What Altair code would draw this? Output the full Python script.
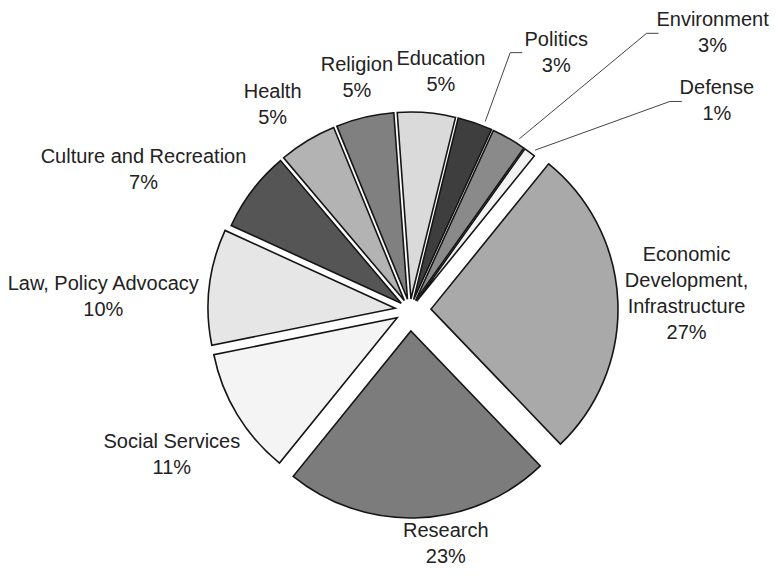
import math
import altair as alt
import pandas as pd

# ---- data ----
categories = ["Economic Development, Infrastructure", "Research", "Social Services",
              "Law, Policy Advocacy", "Culture and Recreation", "Health", "Religion",
              "Education", "Politics", "Environment", "Defense"]
label_names = ["Economic\nDevelopment,\nInfrastructure", "Research", "Social Services",
               "Law, Policy Advocacy", "Culture and Recreation", "Health", "Religion",
               "Education", "Politics", "Environment", "Defense"]
shares = [27, 23, 11, 10, 7, 5, 5, 5, 3, 3, 1]

# ---- style / layout ----
shades = ["#a9a9a9", "#7c7c7c", "#f4f4f4", "#e6e6e6", "#555555", "#b3b3b3",
          "#808080", "#dadada", "#3e3e3e", "#8a8a8a", "#f2f2f2"]
CX, CY = 402, 302          # pie centre (plot pixels)
R = 187                    # pie radius
START = math.radians(39)   # angle where first slice starts
LINE_H = 26
# label anchor around the centre: (angle in degrees clockwise from top, distance)
label_polar = {
    "Economic Development, Infrastructure": (86.7, 277),
    "Research": (171.3, 237),
    "Social Services": (-121.4, 279),
    "Law, Policy Advocacy": (-87.6, 307),
    "Culture and Recreation": (-62.3, 301),
    "Health": (-33.8, 247),
    "Religion": (-12.9, 238),
    "Education": (7.4, 240),
    "Politics": (29.6, 296),
    "Environment": (47.56, 410),
    "Defense": (55.8, 371),
}
# leader line: horizontal gap from the label centre to the end of the line
leader_gap = {"Politics": 34, "Environment": 54, "Defense": 35}

labels_txt = [f"{n}\n{s}%" for n, s in zip(label_names, shares)]
df = pd.DataFrame({
    "category": categories,
    "share": shares,
    "order": list(range(len(categories))),
    "label": labels_txt,
    "nlines": [t.count("\n") + 1 for t in labels_txt],
    "la": [label_polar[c][0] for c in categories],
    "lr": [label_polar[c][1] for c in categories],
    "gap": [leader_gap.get(c) for c in categories],
})

base = alt.Chart(df).transform_joinaggregate(
    total="sum(share)"
).transform_window(
    cum_end="sum(share)", sort=[alt.SortField("order")], frame=[None, 0]
).transform_calculate(
    cum_start="datum.cum_end - datum.share",
).transform_calculate(
    mid=f"{START} + 2*PI*(datum.cum_start + datum.share/2)/datum.total",
    off="datum.share >= 20 ? 21 : (datum.share >= 10 ? 15 : 11)",
).transform_calculate(
    cx=f"{CX} + datum.off*sin(datum.mid)",
    cy=f"{CY} - datum.off*cos(datum.mid)",
    lx=f"{CX} + datum.lr*sin(datum.la*PI/180)",
    ly=f"{CY} - datum.lr*cos(datum.la*PI/180)",
).transform_calculate(
    ty=f"datum.ly - (datum.nlines - 1)*{LINE_H}/2",
)

pie = base.mark_arc(radius=R, stroke="#151515", strokeWidth=1.6).encode(
    theta=alt.Theta("cum_start:Q",
                    scale=alt.Scale(domain=[0, 100], range=[START, START + 2 * math.pi])),
    theta2="cum_end:Q",
    x=alt.X("cx:Q", scale=None),
    y=alt.Y("cy:Q", scale=None),
    color=alt.Color("category:N", scale=alt.Scale(domain=categories, range=shades), legend=None),
)

labels = base.mark_text(
    lineBreak="\n", fontSize=20, font="Liberation Sans", color="#222222",
    align="center", baseline="middle", lineHeight=LINE_H,
).encode(
    x=alt.X("lx:Q", scale=None),
    y=alt.Y("ty:Q", scale=None),
    text="label:N",
)

lead = base.transform_filter("isValid(datum.gap)").transform_calculate(
    a0=f"{START} + 2*PI*(datum.cum_start + 0.75*datum.share)/datum.total",
).transform_calculate(
    p0x=f"datum.cx + {R + 5}*sin(datum.a0)",
    p0y=f"datum.cy - {R + 5}*cos(datum.a0)",
    p2x="datum.lx - datum.gap",
    p1x="datum.lx - datum.gap - 12",
)

seg1 = lead.mark_rule(color="#444444", strokeWidth=1).encode(
    x=alt.X("p0x:Q", scale=None), y=alt.Y("p0y:Q", scale=None),
    x2="p1x:Q", y2="ly:Q",
)
seg2 = lead.mark_rule(color="#444444", strokeWidth=1).encode(
    x=alt.X("p1x:Q", scale=None), y=alt.Y("ly:Q", scale=None),
    x2="p2x:Q", y2="ly:Q",
)

chart = alt.layer(pie, seg1, seg2, labels).properties(
    width=762, height=560, padding=0, autosize="none", background="white"
).configure_view(stroke=None)

chart.save("out.html", embed_options={"renderer": "svg", "actions": False})
